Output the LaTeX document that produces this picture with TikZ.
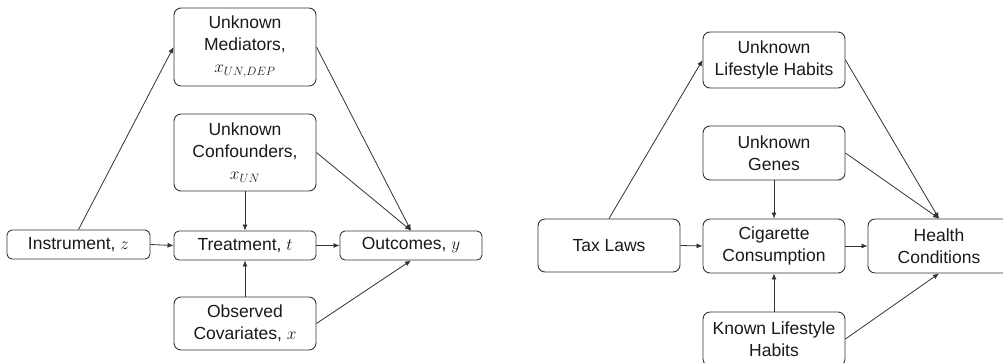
\documentclass[tikz,border=0pt]{standalone}
\usepackage{fontspec}
\setmainfont{Liberation Sans}
\usetikzlibrary{arrows.meta}
\begin{document}
\begin{tikzpicture}[x=1pt,y=-1pt,
  box/.style={draw=black!80, line width=0.9pt, rounded corners=7pt, align=center,
    inner sep=0pt, minimum width=142pt, text=black!90,
    font=\fontsize{17.5}{21.5}\selectfont},
  arr/.style={draw=black!80, line width=0.8pt, -{Latex[length=6pt,width=5pt]}}]
\useasboundingbox (0,0) rectangle (1003,362);
\clip (0,0) rectangle (1003,362);
% left diagram
\node[box, minimum height=78pt] (med) at (245,47) {Unknown\\Mediators,\\[1pt]$x_{UN,DEP}$};
\node[box, minimum height=77pt] (conf) at (245,152.5) {Unknown\\Confounders,\\[1pt]$x_{UN}$};
\node[box, minimum height=29pt, minimum width=143pt, rounded corners=5pt] (instr) at (78.5,244.5) {Instrument, $z$};
\node[box, minimum height=29pt, rounded corners=5pt] (treat) at (245,245.5) {Treatment, $t$};
\node[box, minimum height=29pt, rounded corners=5pt] (out) at (411,245.5) {Outcomes, $y$};
\node[box, minimum height=53pt] (obs) at (245,323.5) {Observed\\Covariates, $x$};
\draw[arr] (instr.north) -- (med.west);
\draw[arr] (instr.east) -- (treat.west);
\draw[arr] (conf.south) -- (treat.north);
\draw[arr] (treat.east) -- (out.west);
\draw[arr] (obs.north) -- (treat.south);
\draw[arr] (med.east) -- (out.north);
\draw[arr] (conf.east) -- (out.north);
\draw[arr] (obs.east) -- (out.south);
% right diagram
\node[box, minimum height=56pt] (ulh) at (774,60) {Unknown\\Lifestyle Habits};
\node[box, minimum height=54pt] (genes) at (774,153) {Unknown\\Genes};
\node[box, minimum height=53pt] (tax) at (609,245.5) {Tax Laws};
\node[box, minimum height=54pt] (cig) at (774,246) {Cigarette\\Consumption};
\node[box, minimum height=54pt] (health) at (939,246) {Health\\Conditions};
\node[box, minimum height=54pt] (known) at (774,339) {Known Lifestyle\\Habits};
\draw[arr] (tax.north) -- (ulh.west);
\draw[arr] (tax.east) -- (cig.west);
\draw[arr] (genes.south) -- (cig.north);
\draw[arr] (cig.east) -- (health.west);
\draw[arr] (known.north) -- (cig.south);
\draw[arr] (ulh.east) -- (health.north);
\draw[arr] (genes.east) -- (health.north);
\draw[arr] (known.east) -- (health.south);
\end{tikzpicture}
\end{document}
